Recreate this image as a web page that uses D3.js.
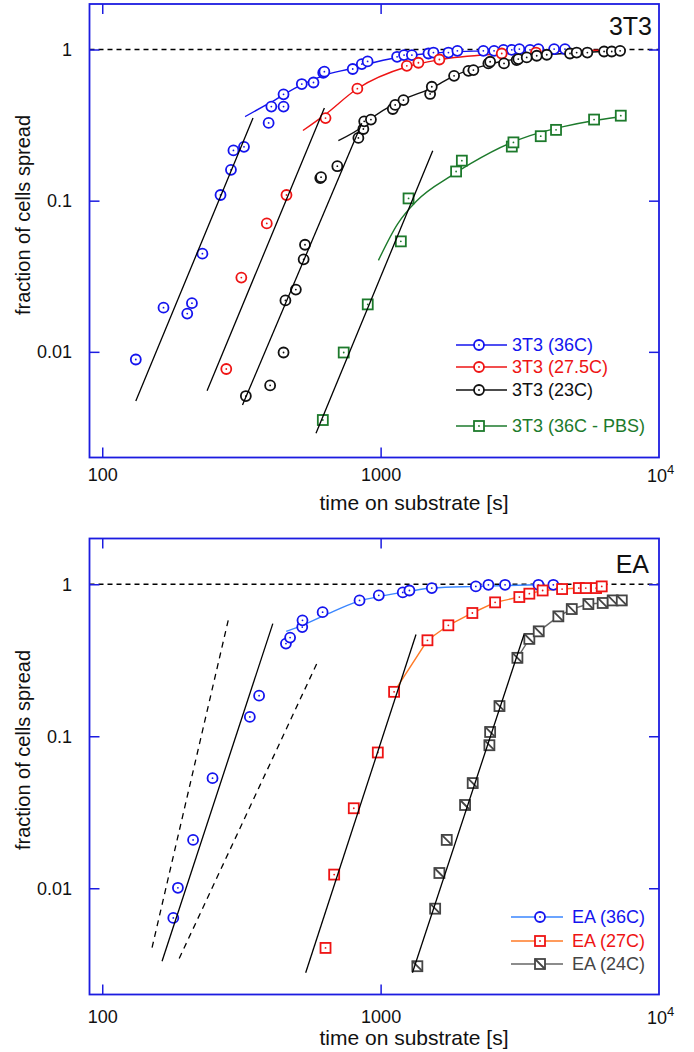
<!DOCTYPE html>
<html>
<head>
<meta charset="utf-8">
<script src="https://cdn.jsdelivr.net/npm/d3@7"></script>
<style>
  body { margin: 0; background: #fff; }
  svg { font-family: "Liberation Sans", Arial, Helvetica, sans-serif; }
</style>
</head>
<body>
<div id="chart"></div>
<script>
// ---- data (time on substrate [s], fraction of cells spread) ----
const xTicks = [100, 1000];
const yTicks = [0.01, 0.1, 1];

// 3T3 panel
const t3_36C = [[132,0.0089],[166,0.0196],[202,0.0179],[210,0.021],[229,0.0446],[266,0.109],[290,0.16],
  [296,0.215],[323,0.227],[396,0.327],[405,0.419],[448,0.419],[448,0.505],[521,0.591],[574,0.605],
  [622,0.702],[628,0.713],[794,0.743],[856,0.801],[898,0.834],[1146,0.895],[1214,0.918],[1295,0.918],
  [1485,0.941],[1548,0.955],[1752,0.955],[1887,0.98],[2339,0.98],[2556,0.98],[2763,0.995],[2960,0.995],
  [3150,1.006],[3441,0.995],[3687,1.006],[4200,1.006],[4595,1.006]];
const t3_275C = [[279,0.0077],[316,0.031],[390,0.0707],[459,0.109],[634,0.352],[825,0.551],[1242,0.78],
  [1367,0.817],[1626,0.859],[2723,0.941],[3614,0.955]];
const t3_23C = [[328,0.0051],[401,0.006],[448,0.0099],[455,0.0219],[496,0.0258],[529,0.0409],[535,0.0511],
  [607,0.141],[611,0.143],[699,0.169],[832,0.26],[867,0.298],[873,0.335],[923,0.344],[1106,0.404],
  [1128,0.43],[1208,0.463],[1506,0.508],[1527,0.567],[1836,0.67],[2067,0.723],[2154,0.731],[2438,0.809],
  [2474,0.83],[2775,0.809],[3080,0.851],[3123,0.864],[3348,0.886],[3637,0.909],[3953,0.923],[4790,0.941],
  [5061,0.955],[5529,0.955],[6350,0.97],[6765,0.97],[7250,0.98]];
const t3_PBS = [[620,0.00354],[737,0.0099],[899,0.0206],[1182,0.0538],[1260,0.1035],[1867,0.156],
  [1958,0.184],[2960,0.228],[3000,0.243],[3760,0.267],[4267,0.294],[5845,0.344],[7290,0.365]];

// fitted saturation curves
const t3_36C_curve = [[326,0.36],[401,0.445],[521,0.585],[620,0.67],[777,0.746],[1021,0.849],[1482,0.94],[2334,0.98],[3741,0.995]];
const t3_275C_curve = [[526,0.291],[632,0.371],[824,0.55],[1242,0.769],[1622,0.855],[2731,0.937],[6140,0.988]];
const t3_23C_curve = [[705,0.25],[867,0.313],[916,0.343],[1204,0.466],[1527,0.556],[1836,0.67],[2474,0.801],
  [3350,0.886],[4533,0.941],[6290,0.97],[7430,0.98]];
const t3_PBS_curve = [[982,0.0403],[1150,0.07],[1350,0.1],[1802,0.147],[2096,0.175],[2917,0.24],[3442,0.269],
  [4533,0.309],[5807,0.338],[7047,0.356]];

// straight (power-law) fits for the early phase
const t3_36C_rise = [[132,0.00473],[348,0.352]];
const t3_275C_rise = [[238,0.00553],[628,0.41]];
const t3_23C_rise = [[319,0.00445],[856,0.325]];
const t3_PBS_rise = [[586,0.00289],[1539,0.214]];

// EA panel
const ea_36C = [[180,0.00638],[187,0.01007],[212,0.0208],[249,0.053],[339,0.134],[366,0.185],[457,0.407],
  [473,0.446],[523,0.523],[524,0.579],[619,0.655],[840,0.783],[985,0.845],[1201,0.884],[1269,0.91],
  [1527,0.944],[2198,0.968],[2439,0.992],[2799,0.992],[3689,0.992],[4172,0.992]];
const ea_27C = [[634,0.00405],[681,0.0123],[801,0.0336],[977,0.0782],[1118,0.196],[1473,0.428],[1751,0.537],
  [2136,0.647],[2578,0.76],[3150,0.824],[3422,0.867],[3820,0.91],[4486,0.93],[5152,0.944],[5457,0.944],
  [5943,0.944],[6227,0.968]];
const ea_24C = [[1355,0.00307],[1570,0.00734],[1626,0.0126],[1728,0.0208],[2011,0.0353],[2142,0.0492],
  [2459,0.0873],[2474,0.1067],[2673,0.158],[3100,0.328],[3422,0.437],[3698,0.49],[4350,0.615],[4860,0.687],
  [5576,0.741],[6277,0.753],[6818,0.783],[7350,0.783]];

const ea_36C_curve = [[458,0.49],[521,0.535],[677,0.663],[844,0.78],[996,0.832],[1259,0.897],[1527,0.944],[2215,0.968],[3637,0.992]];

const ea_36C_rise = [[164,0.00331],[410,0.551]];
const ea_36C_bandLow = [[151,0.00407],[286,0.621]];
const ea_36C_bandHigh = [[189,0.00345],[593,0.307]];
const ea_27C_rise = [[538,0.00278],[1340,0.467]];
const ea_24C_rise = [[1301,0.00278],[3275,0.467]];

const BLUE = '#1414ee', RED = '#ee1414', GREEN = '#1d7a2c', GREY = '#454545';
const FRAME = '#1c1ce0';

class SpreadPanel {

  constructor(_config) {
    this.config = {
      svg: _config.svg,
      top: _config.top,
      bottom: _config.bottom,
      left: 89.5,
      right: 659,
      title: _config.title,
      titleX: _config.titleX,
      titleY: _config.titleY,
      tickPad: _config.tickPad,
      xTitleY: _config.xTitleY,
      yTitleY: _config.yTitleY,
      legend: _config.legend
    }
    this.series = _config.series;
    this.rises = _config.rises;
    this.initVis();
  }

  initVis() {
    let vis = this;
    let c = vis.config;

    vis.xScale = d3.scaleLog()
      .domain([90, 10000])
      .range([c.left, c.right]);

    vis.yScale = d3.scaleLog()
      .domain([0.002, 2])
      .range([c.bottom, c.top]);

    vis.g = c.svg.append('g');

    // inward ticks on all four sides
    vis.xAxis = d3.axisBottom(vis.xScale).tickValues(xTicks).tickSize(-10).tickSizeOuter(0)
      .tickPadding(c.tickPad).tickFormat(d3.format('d'));
    vis.xAxisTop = d3.axisTop(vis.xScale).tickValues(xTicks).tickSize(-10).tickSizeOuter(0).tickFormat('');
    vis.yAxis = d3.axisLeft(vis.yScale).tickValues(yTicks).tickSize(-10).tickSizeOuter(0)
      .tickPadding(17.5).tickFormat(d => d3.format('~g')(d));
    vis.yAxisRight = d3.axisRight(vis.yScale).tickValues(yTicks).tickSize(-10).tickSizeOuter(0).tickFormat('');

    vis.renderVis();
  }

  renderVis() {
    let vis = this;
    let c = vis.config;
    const line = d3.line().x(d => vis.xScale(d[0])).y(d => vis.yScale(d[1]));
    const smooth = d3.line().x(d => vis.xScale(d[0])).y(d => vis.yScale(d[1])).curve(d3.curveMonotoneX);

    // reference line at fraction = 1
    vis.g.append('line')
      .attr('x1', c.left).attr('x2', c.right)
      .attr('y1', vis.yScale(1)).attr('y2', vis.yScale(1))
      .attr('stroke', '#000').attr('stroke-width', 1.3)
      .attr('stroke-dasharray', '5,4');

    // fitted / connecting lines of each series
    vis.series.forEach(s => {
      if (s.curve) {
        vis.g.append('path')
          .attr('d', s.connect ? line(s.curve) : smooth(s.curve))
          .attr('fill', 'none')
          .attr('stroke', s.lineColor)
          .attr('stroke-width', 1.4);
      }
    });

    // markers
    vis.series.forEach(s => {
      vis.drawMarkers(vis.g, s, s.points.map(d => [vis.xScale(d[0]), vis.yScale(d[1])]));
    });

    // early-phase straight fits, drawn over the markers
    vis.rises.forEach(r => {
      vis.g.append('path')
        .attr('d', line(r.points))
        .attr('fill', 'none')
        .attr('stroke', '#000')
        .attr('stroke-width', 1.3)
        .attr('stroke-dasharray', r.dashed ? '6,5' : null);
    });

    // axes
    const styleAxis = g => {
      g.select('.domain').remove();
      g.selectAll('.tick line').attr('stroke', FRAME).attr('stroke-width', 1.5);
      g.selectAll('.tick text').attr('fill', '#111').attr('font-size', 18);
    };
    vis.g.append('g').attr('transform', `translate(0,${c.bottom})`).call(vis.xAxis).call(styleAxis);
    vis.g.append('g').attr('transform', `translate(0,${c.top})`).call(vis.xAxisTop).call(styleAxis);
    vis.g.append('g').attr('transform', `translate(${c.left},0)`).call(vis.yAxis).call(styleAxis);
    vis.g.append('g').attr('transform', `translate(${c.right},0)`).call(vis.yAxisRight).call(styleAxis);

    vis.g.append('rect')
      .attr('x', c.left).attr('y', c.top)
      .attr('width', c.right - c.left).attr('height', c.bottom - c.top)
      .attr('fill', 'none').attr('stroke', FRAME).attr('stroke-width', 1.8);

    // 10^4 label at the right end
    let tenK = vis.g.append('text')
      .attr('x', vis.xScale(10000) - 12)
      .attr('y', c.bottom + c.tickPad + 13)
      .attr('font-size', 18).attr('fill', '#111');
    tenK.append('tspan').text('10');
    tenK.append('tspan').attr('font-size', 13).attr('dy', -8).text('4');

    // axis titles
    vis.g.append('text')
      .attr('x', 414).attr('y', c.xTitleY)
      .attr('text-anchor', 'middle').attr('font-size', 21).attr('fill', '#111')
      .text('time on substrate [s]');

    vis.g.append('text')
      .attr('transform', `translate(29.5,${c.yTitleY}) rotate(-90)`)
      .attr('text-anchor', 'middle').attr('font-size', 20).attr('fill', '#111')
      .text('fraction of cells spread');

    vis.g.append('text')
      .attr('x', c.titleX).attr('y', c.titleY)
      .attr('text-anchor', 'end').attr('font-size', 25).attr('fill', '#111')
      .text(c.title);

    // legend
    let lg = c.legend;
    vis.series.forEach((s, i) => {
      let y = lg.rows[i];
      vis.g.append('line')
        .attr('x1', lg.x0).attr('x2', lg.x1).attr('y1', y).attr('y2', y)
        .attr('stroke', s.lineColor).attr('stroke-width', 1.5);
      vis.drawMarkers(vis.g, s, [[lg.mx, y]]);
      vis.g.append('text')
        .attr('x', lg.tx).attr('y', y).attr('dy', '0.35em')
        .attr('font-size', 18).attr('fill', s.textColor || s.color)
        .text(s.label);
    });
  }

  drawMarkers(g, s, pts) {
    let mg = g.append('g').attr('stroke', s.color).attr('stroke-width', 1.8);
    pts.forEach(p => {
      if (s.marker === 'circle') {
        mg.append('circle').attr('cx', p[0]).attr('cy', p[1]).attr('r', 5).attr('fill', '#fff');
      } else {
        mg.append('rect').attr('x', p[0] - 5).attr('y', p[1] - 5).attr('width', 10).attr('height', 10).attr('fill', '#fff');
        if (s.marker === 'squareX') {
          mg.append('line').attr('x1', p[0] - 5).attr('y1', p[1] - 5).attr('x2', p[0] + 5).attr('y2', p[1] + 5);
        }
      }
      if (s.marker !== 'squareX') {
        mg.append('circle').attr('cx', p[0]).attr('cy', p[1]).attr('r', 0.9).attr('fill', s.color).attr('stroke', 'none');
      }
    });
  }
}

const svg = d3.select('#chart').append('svg')
  .attr('width', 694)
  .attr('height', 1052);

new SpreadPanel({
  svg: svg, top: 4, bottom: 457.5,
  title: '3T3', titleX: 652, titleY: 35,
  tickPad: 11, xTitleY: 510, yTitleY: 215,
  legend: {x0: 456, x1: 507, mx: 479, tx: 512, rows: [345, 367, 390, 426]},
  series: [
    {label: '3T3 (36C)', color: BLUE, lineColor: BLUE, marker: 'circle', points: t3_36C, curve: t3_36C_curve},
    {label: '3T3 (27.5C)', color: RED, lineColor: RED, marker: 'circle', points: t3_275C, curve: t3_275C_curve},
    {label: '3T3 (23C)', color: '#111', lineColor: '#111', marker: 'circle', points: t3_23C, curve: t3_23C_curve},
    {label: '3T3 (36C - PBS)', color: GREEN, lineColor: GREEN, marker: 'square', points: t3_PBS, curve: t3_PBS_curve}
  ],
  rises: [
    {points: t3_36C_rise}, {points: t3_275C_rise}, {points: t3_23C_rise}, {points: t3_PBS_rise}
  ]
});

new SpreadPanel({
  svg: svg, top: 538.5, bottom: 994.5,
  title: 'EA', titleX: 649, titleY: 573,
  tickPad: 16, xTitleY: 1045, yTitleY: 750,
  legend: {x0: 511, x1: 563, mx: 540, tx: 572, rows: [917, 941, 964]},
  series: [
    {label: 'EA (36C)', color: BLUE, lineColor: '#3a86ff', marker: 'circle', points: ea_36C, curve: ea_36C_curve},
    {label: 'EA (27C)', color: RED, lineColor: '#ff7a26', marker: 'square', points: ea_27C,
      curve: ea_27C.filter(d => d[0] >= 1100), connect: true},
    {label: 'EA (24C)', color: GREY, lineColor: '#666', marker: 'squareX', points: ea_24C,
      curve: ea_24C.filter(d => d[0] >= 3000), connect: true}
  ],
  rises: [
    {points: ea_36C_rise}, {points: ea_36C_bandLow, dashed: true}, {points: ea_36C_bandHigh, dashed: true},
    {points: ea_27C_rise}, {points: ea_24C_rise}
  ]
});
</script>
</body>
</html>
